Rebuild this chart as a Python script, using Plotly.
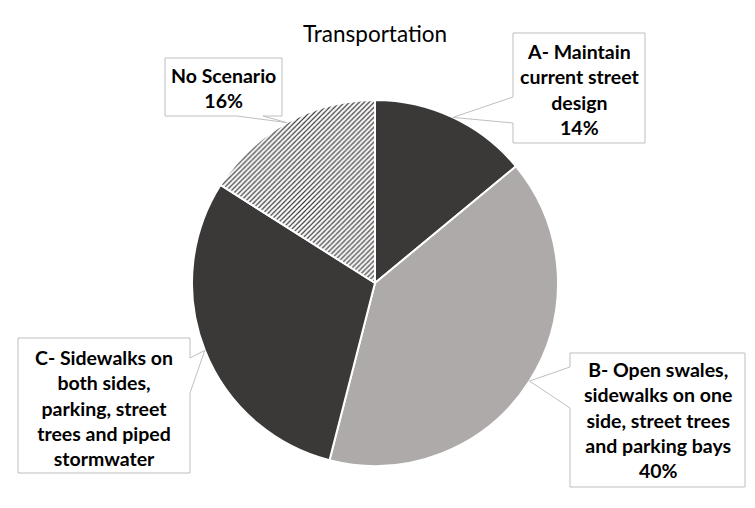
import math
import plotly.graph_objects as go

W, H = 755, 508
OFF = 8  # page body margin offset

# ---- data ----
categories = [
    "A- Maintain current street design",
    "B- Open swales, sidewalks on one side, street trees and parking bays",
    "C- Sidewalks on both sides, parking, street trees and piped stormwater",
    "No Scenario",
]
values = [14, 40, 30, 16]
label_texts = [
    "A- Maintain<br>current street<br>design<br>14%",
    "B- Open swales,<br>sidewalks on one<br>side, street trees<br>and parking bays<br>40%",
    "C- Sidewalks on<br>both sides,<br>parking, street<br>trees and piped<br>stormwater",
    "No Scenario<br>16%",
]
title_text = "Transportation"

# ---- layout geometry (window pixels) ----
CX, CY, R = 375, 283, 183

def px(x):
    return (x - OFF) / W

def py(y):
    return 1 - (y - OFF) / H

colors = ["#3b3838", "#aeaaaa", "#3b3838", "#ffffff"]
patterns = ["", "", "", "/"]

fig = go.Figure(go.Pie(
    labels=categories,
    values=values,
    sort=False,
    direction="clockwise",
    rotation=0,
    textinfo="none",
    hoverinfo="label+percent",
    showlegend=False,
    marker=dict(
        colors=colors,
        line=dict(color="#ffffff", width=2),
        pattern=dict(shape=patterns, fgcolor="#3b3838", bgcolor="#ffffff",
                     size=3.5, solidity=0.35),
    ),
    domain=dict(x=[px(CX - R), px(CX + R)], y=[py(CY + R), py(CY - R)]),
))

# tips of callouts computed from slice mid-angles
total = sum(values)
tips = []
cum = 0
for v in values:
    mid = (cum + v / 2) / total * 2 * math.pi
    tips.append((CX + R * math.sin(mid), CY - R * math.cos(mid)))
    cum += v

# callout boxes: (x0, y0, x1, y1, side, a, b, text_dy)
boxes = [
    (513, 33, 645, 143, "left", 97, 123, 2),
    (570, 353, 745, 487, "left", 367, 408, 0),
    (18, 338, 190, 473, "right", 358, 393, 2),
    (165, 58, 282, 116, "bottom", 237, 263, 1),
]

shapes = []
annotations = []
for (x0, y0, x1, y1, side, a, b, dy), (tx, ty), txt in zip(boxes, tips, label_texts):
    if side == "left":
        pts = [(x0, y0), (x1, y0), (x1, y1), (x0, y1), (x0, b), (tx, ty), (x0, a)]
    elif side == "right":
        pts = [(x0, y0), (x1, y0), (x1, a), (tx, ty), (x1, b), (x1, y1), (x0, y1)]
    else:  # bottom
        pts = [(x0, y0), (x1, y0), (x1, y1), (b, y1), (tx, ty), (a, y1), (x0, y1)]
    path = "M " + " L ".join(f"{px(x):.5f},{py(y):.5f}" for x, y in pts) + " Z"
    shapes.append(dict(type="path", xref="paper", yref="paper", path=path,
                       fillcolor="#ffffff", line=dict(color="#bfbfbf", width=1),
                       layer="above"))
    annotations.append(dict(
        x=px((x0 + x1) / 2), y=py((y0 + y1) / 2 + dy), xref="paper", yref="paper",
        text=f"<b>{txt}</b>", showarrow=False, xanchor="center", yanchor="middle",
        align="center", font=dict(family="Lato", size=19.5, color="#000000"),
    ))

annotations.append(dict(
    x=px(375), y=py(33), xref="paper", yref="paper", text=title_text,
    showarrow=False, xanchor="center", yanchor="middle",
    font=dict(family="Lato", size=22.5, color="#000000"),
))

fig.update_layout(
    width=W, height=H,
    margin=dict(l=0, r=0, t=0, b=0),
    paper_bgcolor="#ffffff",
    plot_bgcolor="#ffffff",
    shapes=shapes,
    annotations=annotations,
)

fig.write_html("out.html")
